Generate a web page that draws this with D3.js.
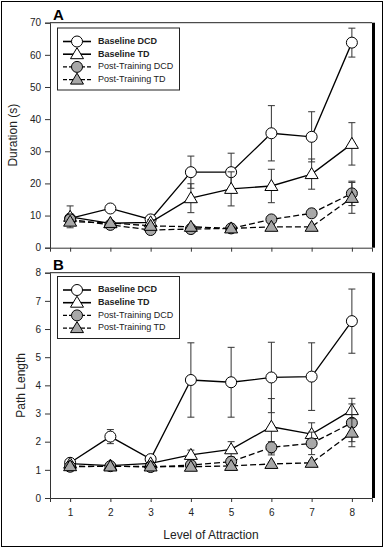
<!DOCTYPE html>
<html><head><meta charset="utf-8">
<script src="https://cdn.jsdelivr.net/npm/d3@7"></script>
<style>body{margin:0;background:#fff}svg{display:block}</style>
</head><body>
<script>
const levels = [1,2,3,4,5,6,7,8];
const seriesNames = ["Baseline DCD","Baseline TD","Post-Training DCD","Post-Training TD"];
// Panel A: Duration (s)
const durBaseDCD = [9.1, 12.2, 8.8, 23.5, 23.5, 35.6, 34.5, 63.8];
const durBaseTD  = [9.6, 7.6, 7.9, 15.4, 18.3, 19.2, 22.9, 32.3];
const durPostDCD = [8.8, 7.1, 5.5, 5.8, 6.0, 8.8, 10.7, 16.9];
const durPostTD  = [8.1, 7.7, 6.8, 6.5, 6.0, 6.5, 6.5, 15.5];
const durErrBaseDCD = [1.2, 0.8, 0.8, 5.0, 5.9, 8.6, 7.8, 4.5];
const durErrBaseTD  = [3.4, 0.8, 0.8, 4.5, 5.3, 5.2, 4.7, 6.6];
const durErrPostDCD = [0.8, 0.6, 0.6, 0.6, 0.5, 1.0, 1.3, 3.8];
const durErrPostTD  = [0.6, 0.6, 0.6, 0.6, 0.5, 0.6, 0.5, 4.8];
// Panel B: Path Length
const pathBaseDCD = [1.25, 2.18, 1.38, 4.19, 4.11, 4.28, 4.31, 6.28];
const pathBaseTD  = [1.22, 1.15, 1.23, 1.53, 1.73, 2.53, 2.27, 3.12];
const pathPostDCD = [1.11, 1.13, 1.10, 1.17, 1.29, 1.80, 1.94, 2.67];
const pathPostTD  = [1.13, 1.12, 1.12, 1.11, 1.14, 1.21, 1.25, 2.32];
const pathErrBaseDCD = [0.08, 0.25, 0.08, 1.32, 1.24, 1.25, 1.20, 1.14];
const pathErrBaseTD  = [0.05, 0.05, 0.05, 0.17, 0.27, 1.00, 0.40, 0.42];
const pathErrPostDCD = [0.05, 0.05, 0.05, 0.08, 0.12, 0.20, 0.40, 0.67];
const pathErrPostTD  = [0.05, 0.05, 0.05, 0.05, 0.05, 0.06, 0.06, 0.50];
const durTicks = [0,10,20,30,40,50,60,70];
const pathTicks = [0,1,2,3,4,5,6,7,8];

const W = 384, H = 548;
const svg = d3.select("body").append("svg").attr("width", W).attr("height", H);
svg.append("rect").attr("x",1.5).attr("y",1.5).attr("width",W-3).attr("height",H-3)
  .attr("fill","none").attr("stroke","#000").attr("stroke-width",1);

const font = "'Liberation Sans', Arial, sans-serif";
const styles = [
  {shape:"circle", fill:"#fff", dash:null},
  {shape:"triangle", fill:"#fff", dash:null},
  {shape:"circle", fill:"#a8a8a8", dash:"6,3"},
  {shape:"triangle", fill:"#a8a8a8", dash:"6,3"}
];

function marker(g, shape, fill, x, y) {
  if (shape === "circle") {
    g.append("circle").attr("cx",x).attr("cy",y).attr("r",5.5)
      .attr("fill",fill).attr("stroke","#000").attr("stroke-width",1);
  } else {
    g.append("path").attr("d",`M${x},${y-6.5}L${x+6.5},${y+4.5}L${x-6.5},${y+4.5}Z`)
      .attr("fill",fill).attr("stroke","#000").attr("stroke-width",1);
  }
}

function panel(opt) {
  const {top, bottom, ymax, ticks, data, errs, label, title, titleX, legendY, showXLabels} = opt;
  const left = 50, right = 372;
  const x = d3.scaleLinear().domain([0.5, 8.5]).range([left, right]);
  const y = d3.scaleLinear().domain([0, ymax]).range([bottom, top]);
  const g = svg.append("g");
  // frame
  g.append("line").attr("x1",left).attr("x2",right).attr("y1",top).attr("y2",top).attr("stroke","#222").attr("stroke-width",1);
  g.append("line").attr("x1",right+1.5).attr("x2",right+1.5).attr("y1",top).attr("y2",bottom).attr("stroke","#000").attr("stroke-width",3);
  // axes
  const ya = g.append("g").attr("transform",`translate(${left},0)`)
    .call(d3.axisLeft(y).tickValues(ticks).tickSize(5).tickPadding(4));
  const xa = g.append("g").attr("transform",`translate(0,${bottom})`)
    .call(d3.axisBottom(x).tickValues(levels).tickSize(4).tickPadding(7).tickFormat(showXLabels ? d3.format("d") : ""));
  [ya, xa].forEach(a => {
    a.select(".domain").attr("stroke","#333");
    a.selectAll(".tick line").attr("stroke","#333");
    a.selectAll(".tick text").attr("font-family",font).attr("font-size",10).attr("fill","#222");
  });
  // titles
  g.append("text").attr("transform",`translate(${titleX},${(top+bottom)/2}) rotate(-90)`)
    .attr("text-anchor","middle").attr("dominant-baseline","middle")
    .attr("font-family",font).attr("font-size",12).attr("fill","#222").text(title);
  g.append("text").attr("x",53).attr("y",top-3).attr("font-family",font).attr("font-weight","bold")
    .attr("font-size",15).attr("fill","#000").text(label);
  // series
  data.forEach((vals, i) => {
    const st = styles[i];
    const sg = g.append("g");
    sg.append("path").datum(vals)
      .attr("d", d3.line().x((d,j)=>x(levels[j])).y(d=>y(d)))
      .attr("fill","none").attr("stroke","#000").attr("stroke-width",1.3)
      .attr("stroke-dasharray", st.dash);
    vals.forEach((v,j) => {
      const e = errs[i][j], cx = x(levels[j]);
      sg.append("line").attr("x1",cx).attr("x2",cx).attr("y1",y(v-e)).attr("y2",y(v+e)).attr("stroke","#333").attr("stroke-width",1);
      [v-e, v+e].forEach(t => sg.append("line").attr("x1",cx-3.5).attr("x2",cx+3.5).attr("y1",y(t)).attr("y2",y(t)).attr("stroke","#333").attr("stroke-width",1));
    });
    vals.forEach((v,j) => marker(sg, st.shape, st.fill, x(levels[j]), y(v)));
  });
  // legend
  const lg = g.append("g");
  lg.append("rect").attr("x",57.5).attr("y",legendY-13.5).attr("width",122).attr("height",62)
    .attr("fill","#fff").attr("stroke","#222").attr("stroke-width",1);
  seriesNames.forEach((n,i) => {
    const ly = legendY + i*12.7;
    const st = styles[i];
    lg.append("line").attr("x1",63).attr("x2",91).attr("y1",ly).attr("y2",ly)
      .attr("stroke","#000").attr("stroke-width", i<2 ? 1.6 : 1.3).attr("stroke-dasharray", st.dash ? "4,2" : null);
    marker(lg, st.shape, st.fill, 77, ly);
    lg.append("text").attr("x",98).attr("y",ly).attr("dominant-baseline","middle")
      .attr("font-family",font).attr("font-size",9).attr("font-weight", i<2 ? "bold" : "normal")
      .attr("fill","#222").text(n);
  });
}

panel({top:22.7, bottom:247.7, ymax:70, ticks:durTicks,
  data:[durBaseDCD,durBaseTD,durPostDCD,durPostTD],
  errs:[durErrBaseDCD,durErrBaseTD,durErrPostDCD,durErrPostTD],
  label:"A", title:"Duration (s)", titleX:14, legendY:41.5, showXLabels:false});
panel({top:272.7, bottom:498, ymax:8, ticks:pathTicks,
  data:[pathBaseDCD,pathBaseTD,pathPostDCD,pathPostTD],
  errs:[pathErrBaseDCD,pathErrBaseTD,pathErrPostDCD,pathErrPostTD],
  label:"B", title:"Path Length", titleX:22, legendY:290, showXLabels:true});

svg.append("text").attr("x",211).attr("y",536).attr("text-anchor","middle").attr("dominant-baseline","middle")
  .attr("font-family",font).attr("font-size",12).attr("fill","#222").text("Level of Attraction");
</script>
</body></html>
